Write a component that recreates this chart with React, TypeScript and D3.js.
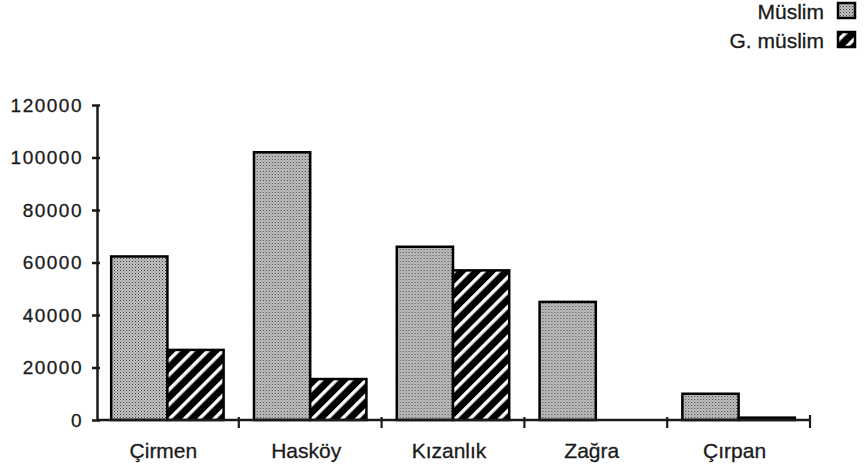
import React, { useEffect, useRef } from 'react';
import * as d3 from 'd3';

const categories = ['Çirmen', 'Hasköy', 'Kızanlık', 'Zağra', 'Çırpan'];
const seriesNames = ['Müslim', 'G. müslim'];
const muslim = [62300, 102000, 66000, 45000, 10000];
const gayriMuslim = [26700, 15600, 57000, 0, 900];
const yTicks = [0, 20000, 40000, 60000, 80000, 100000, 120000];

const W = 865;
const H = 471;
const margin = { top: 105, right: 55, bottom: 51, left: 96 };
const font = '"Liberation Sans", Arial, sans-serif';
const ink = '#1a1a1a';

export default function App() {
  const svgRef = useRef<SVGSVGElement>(null);

  useEffect(() => {
    const svg = d3.select(svgRef.current);
    svg.selectAll('g.chart').remove();
    const root = svg.append('g').attr('class', 'chart');

    const x0 = d3.scaleBand<string>()
      .domain(categories)
      .range([margin.left, W - margin.right])
      .padding(0);
    const x1 = d3.scaleBand<string>()
      .domain(seriesNames)
      .range([0, x0.bandwidth()])
      .paddingInner(0)
      .paddingOuter(0.27);
    const y = d3.scaleLinear()
      .domain([0, 120000])
      .range([H - margin.bottom, margin.top]);

    const rows = categories.map((c, i) => ({
      cat: c,
      values: [
        { key: seriesNames[0], value: muslim[i], fill: 'url(#stipple)' },
        { key: seriesNames[1], value: gayriMuslim[i], fill: 'url(#stripes)' },
      ],
    }));

    // bars
    const groups = root.selectAll('g.cat')
      .data(rows)
      .enter()
      .append('g')
      .attr('class', 'cat')
      .attr('transform', d => `translate(${x0(d.cat)},0)`);

    groups.selectAll('rect')
      .data(d => d.values.filter(v => v.value > 0))
      .enter()
      .append('rect')
      .attr('x', d => x1(d.key)!)
      .attr('y', d => y(d.value))
      .attr('width', x1.bandwidth())
      .attr('height', d => y(0) - y(d.value))
      .attr('fill', d => d.fill)
      .attr('stroke', '#000')
      .attr('stroke-width', 2.5);

    // y axis
    const yAxis = root.append('g')
      .attr('transform', `translate(${margin.left + 1},0)`)
      .call(d3.axisLeft(y).tickValues(yTicks).tickSize(5).tickSizeOuter(0).tickFormat(d => String(d)));
    yAxis.select('.domain').attr('stroke', ink).attr('stroke-width', 2.5);
    yAxis.selectAll('.tick line').attr('x1', 3).attr('stroke', ink).attr('stroke-width', 2.5);
    yAxis.selectAll('.tick text')
      .attr('x', -14)
      .attr('font-family', font)
      .attr('font-size', 19)
      .attr('letter-spacing', 1.5)
      .attr('fill', ink)
      .attr('stroke', ink)
      .attr('stroke-width', 0.3);

    // x axis
    const xAxis = root.append('g');
    xAxis.append('line')
      .attr('x1', margin.left + 1)
      .attr('x2', W - margin.right)
      .attr('y1', y(0))
      .attr('y2', y(0))
      .attr('stroke', ink)
      .attr('stroke-width', 2.5);
    xAxis.selectAll('line.tick')
      .data(categories)
      .enter()
      .append('line')
      .attr('class', 'tick')
      .attr('x1', d => x0(d)! + x0.step())
      .attr('x2', d => x0(d)! + x0.step())
      .attr('y1', (d, i) => y(0) - (i === categories.length - 1 ? 5 : 3))
      .attr('y2', y(0) + 8)
      .attr('stroke', ink)
      .attr('stroke-width', 2.2);
    xAxis.selectAll('text')
      .data(categories)
      .enter()
      .append('text')
      .attr('x', d => x0(d)! + x0.bandwidth() / 2 - 4)
      .attr('y', 458)
      .attr('text-anchor', 'middle')
      .attr('font-family', font)
      .attr('font-size', 21)
      .attr('fill', ink)
      .attr('stroke', ink)
      .attr('stroke-width', 0.3)
      .text(d => d);

    // legend
    const legend = root.append('g');
    const items = [
      { name: seriesNames[0], fill: 'url(#stipple)', y: 3 },
      { name: seriesNames[1], fill: 'url(#stripes)', y: 32 },
    ];
    items.forEach(it => {
      legend.append('text')
        .attr('x', 824)
        .attr('y', it.y + 15.5)
        .attr('text-anchor', 'end')
        .attr('font-family', font)
        .attr('font-size', 21)
        .attr('fill', ink)
        .attr('stroke', ink)
        .attr('stroke-width', 0.3)
        .text(it.name);
      legend.append('rect')
        .attr('x', 838)
        .attr('y', it.y)
        .attr('width', 17)
        .attr('height', 15)
        .attr('fill', it.fill)
        .attr('stroke', '#000')
        .attr('stroke-width', 2.5);
    });
  }, []);

  return (
    <div style={{ position: 'absolute', left: 0, top: 0 }}>
      <svg ref={svgRef} width={W} height={H} style={{ display: 'block', background: '#fff' }}>
        <defs>
          <pattern id="stipple" width="3" height="3" patternUnits="userSpaceOnUse">
            <rect width="3" height="3" fill="#c4c4c4" />
            <rect x="0" y="0" width="1" height="1" fill="#3a3a3a" />
            <rect x="1.5" y="1.5" width="1" height="1" fill="#666" />
          </pattern>
          <pattern id="stripes" width="10.5" height="10.5" patternUnits="userSpaceOnUse" patternTransform="rotate(45)">
            <rect width="10.5" height="10.5" fill="#000" />
            <rect x="0" y="0" width="3.4" height="10.5" fill="#fff" />
          </pattern>
        </defs>
      </svg>
    </div>
  );
}
